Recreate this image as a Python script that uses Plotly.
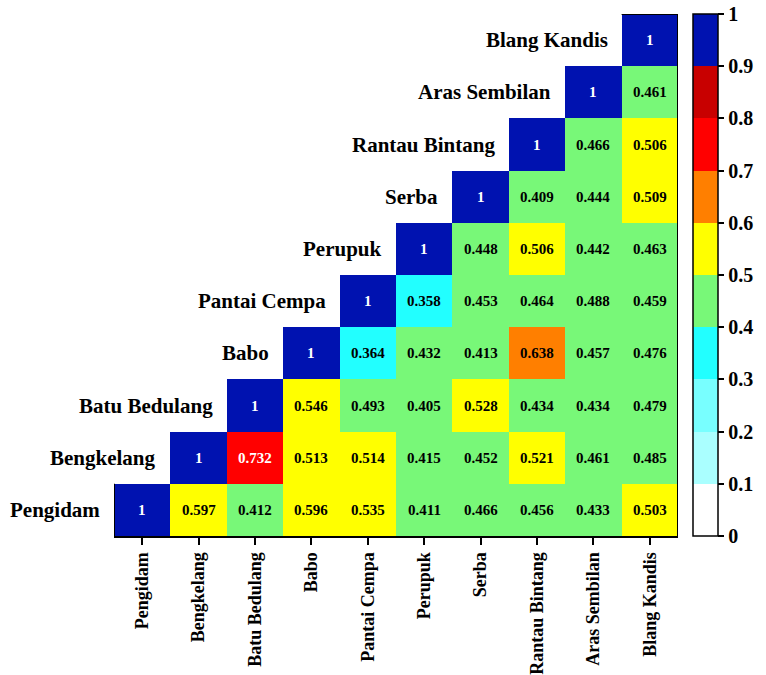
import plotly.graph_objects as go

# Sampling sites, ordered along both axes (bottom-to-top rows, left-to-right columns)
sites = ["Pengidam", "Bengkelang", "Batu Bedulang", "Babo", "Pantai Cempa",
         "Perupuk", "Serba", "Rantau Bintang", "Aras Sembilan", "Blang Kandis"]

# Upper-triangle similarity values; each row starts at its own diagonal cell
row_pengidam = [1, 0.597, 0.412, 0.596, 0.535, 0.411, 0.466, 0.456, 0.433, 0.503]
row_bengkelang = [1, 0.732, 0.513, 0.514, 0.415, 0.452, 0.521, 0.461, 0.485]
row_batu_bedulang = [1, 0.546, 0.493, 0.405, 0.528, 0.434, 0.434, 0.479]
row_babo = [1, 0.364, 0.432, 0.413, 0.638, 0.457, 0.476]
row_pantai_cempa = [1, 0.358, 0.453, 0.464, 0.488, 0.459]
row_perupuk = [1, 0.448, 0.506, 0.442, 0.463]
row_serba = [1, 0.409, 0.444, 0.509]
row_rantau_bintang = [1, 0.466, 0.506]
row_aras_sembilan = [1, 0.461]
row_blang_kandis = [1]

rows = [row_pengidam, row_bengkelang, row_batu_bedulang, row_babo, row_pantai_cempa,
        row_perupuk, row_serba, row_rantau_bintang, row_aras_sembilan, row_blang_kandis]

# Colour bands, one per 0.1 step from 0 to 1
band_colors = ["#ffffff", "#aaffff", "#78ffff", "#22ffff", "#78f878",
               "#ffff00", "#ff7f00", "#ff0000", "#c80000", "#0012b0"]
cbar_ticks = [0, 0.1, 0.2, 0.3, 0.4, 0.5, 0.6, 0.7, 0.8, 0.9, 1]
cbar_ticktext = ["0", "0.1", "0.2", "0.3", "0.4", "0.5", "0.6", "0.7", "0.8", "0.9", "1"]

n = len(sites)
z = [[None] * n for _ in range(n)]
for i, r in enumerate(rows):
    for k, v in enumerate(r):
        z[i][i + k] = v

colorscale = []
for k, c in enumerate(band_colors):
    colorscale.append([k / 10, c])
    colorscale.append([(k + 1) / 10, c])

FONT = "Liberation Serif"

fig = go.Figure()
fig.add_trace(go.Heatmap(
    z=z, x=list(range(n)), y=list(range(n)),
    zmin=0, zmax=1, colorscale=colorscale, hoverongaps=False,
    colorbar=dict(
        x=1.026, xanchor="left", xpad=0, y=0.5, yanchor="middle",
        len=1.0, lenmode="fraction", ypad=0, thickness=25,
        outlinecolor="black", outlinewidth=1.5,
        tickvals=cbar_ticks, ticktext=cbar_ticktext,
        ticks="outside", ticklen=6, tickwidth=1.5, tickcolor="black",
        tickfont=dict(family=FONT, size=20, color="black", weight="bold"),
    ),
))

annotations = []
for i in range(n):
    for j in range(n):
        v = z[i][j]
        if v is None:
            continue
        dark = v >= 0.7
        annotations.append(dict(
            x=j, y=i, xref="x", yref="y", text=f"{v:g}", showarrow=False,
            font=dict(family=FONT, size=15, weight="bold",
                      color="white" if dark else "black"),
        ))
    # row label sits just left of the diagonal cell
    annotations.append(dict(
        x=i - 0.5, y=i, xref="x", yref="y", text=sites[i], showarrow=False,
        xanchor="right", xshift=-12,
        font=dict(family=FONT, size=21, weight="bold", color="black"),
    ))

shapes = [
    # right edge
    dict(type="line", xref="x", yref="y", x0=n - 0.5, x1=n - 0.5, y0=-0.5, y1=n - 0.5,
         line=dict(color="black", width=2)),
    # top edge of last column
    dict(type="line", xref="x", yref="y", x0=n - 1.5, x1=n - 0.5, y0=n - 0.5, y1=n - 0.5,
         line=dict(color="black", width=2)),
    # left edge of first row
    dict(type="line", xref="x", yref="y", x0=-0.5, x1=-0.5, y0=-0.5, y1=0.5,
         line=dict(color="black", width=2)),
]

fig.update_layout(
    width=766, height=675,
    margin=dict(l=114, r=84, t=14, b=139),
    paper_bgcolor="white", plot_bgcolor="white",
    annotations=annotations, shapes=shapes,
    xaxis=dict(
        range=[-0.5, n - 0.5], tickvals=list(range(n)), ticktext=sites,
        tickangle=-90, ticks="outside", ticklen=7, tickwidth=2, tickcolor="black",
        showline=True, linecolor="black", linewidth=2, showgrid=False, zeroline=False,
        automargin=False,
        tickfont=dict(family=FONT, size=18, color="black", weight="bold"),
    ),
    yaxis=dict(
        range=[-0.5, n - 0.5], showticklabels=False, showgrid=False,
        zeroline=False, showline=False, ticks="", automargin=False,
    ),
)

fig.write_html("out.html")
